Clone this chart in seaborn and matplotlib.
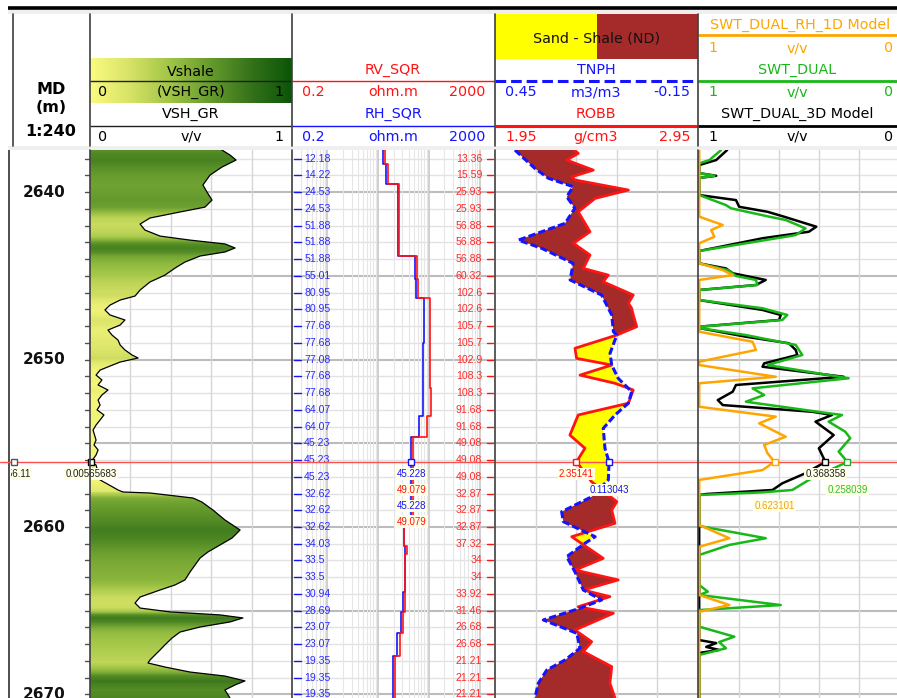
import numpy as np
import matplotlib
matplotlib.use("Agg")
import matplotlib.pyplot as plt
import matplotlib.transforms as mtransforms
from matplotlib.colors import LinearSegmentedColormap
from matplotlib.patches import Polygon, Rectangle
from matplotlib.ticker import LogLocator, NullFormatter
import seaborn as sns

sns.set_theme(style="white")
plt.rcParams["font.family"] = ["DejaVu Sans"]

# ---------------------------------------------------------------- depth window
TOP_MD, BASE_MD = 2637.49, 2670.21
CURSOR_MD = 2656.11
DEPTH_LABELS = [2640, 2650, 2660, 2670]

# ---------------------------------------------------------------- Vshale (VSH_GR, v/v)
VSH_MD = [2637.49, 2637.79, 2638.09, 2638.51, 2638.99, 2639.58, 2640.00, 2640.48, 2640.90, 2641.19,
          2641.55, 2641.91, 2642.27, 2642.63, 2642.87, 2643.10, 2643.34, 2643.58, 2643.82, 2644.18,
          2644.54, 2644.96, 2645.37, 2645.85, 2646.21, 2646.45, 2646.75, 2647.04, 2647.34, 2647.64,
          2647.94, 2648.24, 2648.54, 2648.84, 2649.13, 2649.43, 2649.73, 2649.91, 2650.15, 2650.39,
          2650.63, 2650.93, 2651.22, 2651.52, 2651.82, 2652.12, 2652.42, 2652.72, 2653.01, 2653.31,
          2653.61, 2653.91, 2654.21, 2654.81, 2655.10, 2655.40, 2655.70, 2656.11, 2656.30, 2657.19,
          2657.79, 2657.91, 2657.97, 2658.27, 2658.51, 2658.99, 2659.58, 2660.18, 2660.66, 2661.07,
          2661.49, 2661.85, 2662.27, 2662.69, 2663.16, 2663.46, 2663.76, 2664.18, 2664.54, 2664.84,
          2665.07, 2665.25, 2665.43, 2665.67, 2665.97, 2666.27, 2666.63, 2667.04, 2667.34, 2667.64,
          2667.94, 2668.12, 2668.36, 2668.66, 2668.90, 2669.19, 2669.43, 2669.73, 2670.21]
VSH = [0.653, 0.693, 0.723, 0.653, 0.594, 0.559, 0.579, 0.604, 0.569, 0.446,
       0.297, 0.248, 0.272, 0.347, 0.495, 0.668, 0.718, 0.668, 0.545, 0.470,
       0.421, 0.371, 0.297, 0.248, 0.223, 0.149, 0.099, 0.074, 0.099, 0.173,
       0.149, 0.089, 0.109, 0.139, 0.149, 0.173, 0.208, 0.238, 0.149, 0.099,
       0.050, 0.030, 0.059, 0.040, 0.089, 0.059, 0.040, 0.050, 0.035, 0.069,
       0.050, 0.030, 0.015, 0.030, 0.020, 0.040, 0.030, 0.00565683, 0.030, 0.050,
       0.139, 0.163, 0.297, 0.510, 0.554, 0.609, 0.668, 0.743, 0.703, 0.644,
       0.584, 0.545, 0.520, 0.495, 0.470, 0.421, 0.347, 0.248, 0.223, 0.248,
       0.396, 0.644, 0.757, 0.693, 0.545, 0.446, 0.406, 0.371, 0.347, 0.322,
       0.297, 0.287, 0.371, 0.495, 0.668, 0.767, 0.718, 0.668, 0.693]

# ---------------------------------------------------------------- resistivity (blocky, ohm.m)
RH_TOP = [2637.49, 2638.30, 2639.50, 2643.80, 2645.20, 2646.30, 2649.00, 2649.60, 2650.40,
          2653.40, 2654.60, 2660.00, 2661.15, 2661.60, 2663.90, 2665.10, 2666.30, 2667.70]
RH_SQR = [12.18, 14.22, 24.53, 51.88, 55.01, 80.95, 77.68, 77.08, 77.68,
          64.07, 45.228, 32.62, 34.03, 33.5, 30.94, 28.69, 23.07, 19.35]
RV_TOP = [2637.49, 2638.30, 2639.50, 2643.80, 2645.20, 2646.30, 2649.00, 2649.60, 2650.40, 2651.70,
          2653.40, 2654.60, 2660.00, 2661.15, 2661.60, 2663.90, 2665.10, 2666.30, 2667.70]
RV_SQR = [13.36, 15.59, 25.93, 56.88, 60.32, 102.6, 105.7, 102.9, 105.7, 108.3,
          91.68, 49.079, 32.87, 37.32, 34.0, 33.92, 31.46, 26.68, 21.21]

# per-metre value annotations printed along the resistivity track
RES_LABEL_MD = list(range(2638, 2671))
RH_LABELS = [12.18, 14.22, 24.53, 24.53, 51.88, 51.88, 51.88, 55.01, 80.95, 80.95, 77.68, 77.68,
             77.08, 77.68, 77.68, 64.07, 64.07, 45.23, 45.23, 45.23, 32.62, 32.62, 32.62, 34.03,
             33.5, 33.5, 30.94, 28.69, 23.07, 23.07, 19.35, 19.35, 19.35]
RV_LABELS = [13.36, 15.59, 25.93, 25.93, 56.88, 56.88, 56.88, 60.32, 102.6, 102.6, 105.7, 105.7,
             102.9, 108.3, 108.3, 91.68, 91.68, 49.08, 49.08, 49.08, 32.87, 32.87, 32.87, 37.32,
             34, 34, 33.92, 31.46, 26.68, 26.68, 21.21, 21.21, 21.21]

# ---------------------------------------------------------------- density / neutron
RHOB_MD = [2637.49, 2637.69, 2638.09, 2638.69, 2639.09, 2639.28, 2639.88, 2640.38, 2641.18, 2642.37,
           2643.06, 2643.76, 2644.56, 2644.96, 2645.36, 2646.15, 2646.64, 2646.94, 2647.34, 2648.04,
           2648.54, 2649.33, 2649.93, 2650.33, 2650.93, 2651.42, 2651.82, 2652.61, 2653.31, 2654.51,
           2655.30, 2656.11, 2657.30, 2658.49, 2658.99, 2659.78, 2660.58, 2661.87, 2662.57, 2663.16,
           2663.76, 2664.16, 2664.76, 2665.15, 2666.15, 2666.85, 2667.44, 2668.34, 2669.33, 2670.21]
RHOB = [2.34, 2.36, 2.303, 2.434, 2.328, 2.344, 2.607, 2.443, 2.360, 2.418,
        2.336, 2.418, 2.385, 2.508, 2.483, 2.631, 2.607, 2.623, 2.631, 2.648,
        2.550, 2.344, 2.352, 2.525, 2.369, 2.541, 2.631, 2.607, 2.360, 2.319,
        2.393, 2.35141, 2.426, 2.550, 2.525, 2.541, 2.328, 2.483, 2.344, 2.557,
        2.385, 2.516, 2.360, 2.533, 2.344, 2.426, 2.385, 2.525, 2.516, 2.541]
TNPH_MD = [2637.49, 2637.59, 2638.59, 2639.18, 2639.68, 2640.28, 2640.97, 2641.87, 2642.87, 2643.36,
           2644.26, 2645.25, 2646.15, 2647.34, 2648.34, 2648.54, 2649.63, 2650.33, 2651.12, 2651.92,
           2652.61, 2653.31, 2654.11, 2655.30, 2656.11, 2657.19, 2658.19, 2659.09, 2659.68, 2660.58,
           2660.97, 2661.77, 2662.67, 2663.76, 2664.36, 2664.85, 2665.55, 2666.35, 2667.24, 2667.94,
           2668.54, 2669.33, 2670.21]
TNPH = [0.391, 0.386, 0.332, 0.292, 0.219, 0.238, 0.214, 0.243, 0.381, 0.312,
        0.219, 0.228, 0.135, 0.105, 0.100, 0.090, 0.110, 0.105, 0.086, 0.046,
        0.056, 0.095, 0.130, 0.125, 0.113043, 0.115, 0.164, 0.253, 0.248, 0.154,
        0.184, 0.238, 0.214, 0.189, 0.135, 0.199, 0.307, 0.208, 0.199, 0.243,
        0.297, 0.322, 0.332]

# ---------------------------------------------------------------- water saturation models
SW3D_MD = [2637.49, 2638.09, 2638.39, 2638.87, 2639.03, 2639.16, 2640.18, 2640.48, 2640.88, 2641.18,
           2641.47, 2641.87, 2642.07, 2642.37, 2642.76, 2643.52, 2644.26, 2644.56, 2644.85, 2645.25,
           2645.55, 2645.85, 2646.45, 2647.04, 2647.34, 2647.64, 2648.04, 2648.12, 2648.64, 2649.03,
           2649.43, 2649.73, 2650.23, 2650.43, 2651.03, 2651.52, 2651.92, 2652.42, 2652.72, 2653.12,
           2653.31, 2653.71, 2654.51, 2655.30, 2655.70, 2656.11, 2656.79, 2657.39, 2657.79, 2658.03,
           2658.09, 2666.75, 2666.93, 2667.16, 2667.34, 2667.52, 2670.21]
SWT_DUAL_3D = [0.86, 0.915, 1.0, 1.0, 0.915, 1.0, 1.0, 0.816, 0.800, 0.658,
               0.576, 0.468, 0.414, 0.451, 0.683, 1.0, 1.0, 0.866, 0.832, 0.667,
               0.716, 1.0, 1.0, 0.683, 0.592, 0.600, 1.0, 1.0, 0.766, 0.551,
               0.517, 0.509, 0.675, 0.683, 0.277, 0.816, 0.832, 0.907, 0.882, 0.434,
               0.335, 0.418, 0.327, 0.401, 0.385, 0.368358, 0.468, 0.584, 0.633, 0.965,
               1.0, 1.0, 0.915, 0.965, 0.900, 1.0, 1.0]
SWD_MD = [2637.49, 2638.09, 2638.29, 2638.87, 2639.03, 2639.16, 2640.18, 2640.78, 2640.97, 2641.47,
          2641.67, 2642.17, 2642.57, 2643.52, 2644.26, 2644.66, 2645.01, 2645.25, 2645.55, 2645.85,
          2646.45, 2646.94, 2647.34, 2647.64, 2648.04, 2648.12, 2648.54, 2649.13, 2649.73, 2650.33,
          2651.12, 2651.72, 2652.12, 2652.52, 2653.21, 2653.31, 2653.71, 2654.31, 2654.70, 2655.50,
          2656.11, 2657.19, 2657.79, 2657.93, 2658.09, 2659.94, 2660.67, 2661.07, 2661.67, 2663.46,
          2663.86, 2664.06, 2664.66, 2664.96, 2665.95, 2666.55, 2666.87, 2667.24, 2667.64, 2670.21]
SWT_DUAL = [0.89, 0.949, 1.0, 1.0, 0.924, 1.0, 1.0, 0.866, 0.841, 0.650,
            0.567, 0.468, 0.517, 1.0, 1.0, 0.857, 0.816, 0.716, 0.708, 1.0,
            1.0, 0.683, 0.559, 0.584, 1.0, 1.0, 0.766, 0.517, 0.484, 0.658,
            0.252, 0.733, 0.675, 0.766, 0.352, 0.285, 0.352, 0.269, 0.244, 0.302,
            0.258039, 0.451, 0.534, 0.683, 1.0, 1.0, 0.667, 0.849, 1.0, 1.0,
            0.957, 1.0, 0.592, 1.0, 1.0, 0.824, 0.900, 0.866, 1.0, 1.0]
SW1D_MD = [2637.49, 2641.47, 2641.97, 2642.27, 2642.67, 2643.06, 2644.26, 2644.66, 2644.96, 2645.25,
           2648.34, 2648.94, 2649.43, 2650.13, 2650.33, 2651.03, 2651.42, 2652.82, 2653.41, 2653.81,
           2654.61, 2655.10, 2655.60, 2656.11, 2656.60, 2657.19, 2659.88, 2660.67, 2661.18, 2664.06,
           2664.66, 2665.06, 2670.21]
SWT_DUAL_RH_1D = [1.0, 1.0, 0.882, 0.940, 0.924, 1.0, 1.0, 0.882, 0.832, 1.0,
                  1.0, 0.733, 0.716, 1.0, 1.0, 0.617, 1.0, 1.0, 0.617, 0.700,
                  0.567, 0.675, 0.658, 0.623101, 0.683, 1.0, 1.0, 0.849, 1.0, 1.0,
                  0.849, 1.0, 1.0]

# ---------------------------------------------------------------- styling
W, H = 897, 698
DATA_TOP, DATA_BOT = 150, 698
RED, BLUE = "#ff1414", "#1414ff"
GREEN, ORANGE = "#18b818", "#ffa500"
BROWN, YELLOW = "#a52a2a", "#ffff00"
LBL_FONT = ["Liberation Sans", "DejaVu Sans"]
HDR_SIZE = 10.3

fig = plt.figure(figsize=(W / 100, H / 100), dpi=100)
fig.patch.set_facecolor("white")


def px_axes(x0, x1, y0=DATA_TOP, y1=DATA_BOT):
    return fig.add_axes([x0 / W, 1 - y1 / H, (x1 - x0) / W, (y1 - y0) / H])


def setup_track(ax, grid=True):
    ax.set_ylim(BASE_MD, TOP_MD)
    ax.set_facecolor("white")
    for sp in ax.spines.values():
        sp.set_visible(False)
    ax.tick_params(which="both", left=False, right=False, top=False, bottom=False,
                   labelleft=False, labelbottom=False, labeltop=False)
    ax.set_xlabel("")
    ax.set_ylabel("")
    if grid:
        for d in np.arange(np.ceil(TOP_MD), BASE_MD):
            major = int(d) % 5 == 0
            ax.axhline(d, color="#bcbcbc" if major else "#e2e2e2",
                       lw=1.5 if major else 1.0, zorder=0.2)
    ax.axhline(CURSOR_MD, color="#ff5050", lw=1.0, zorder=5)


def curve(ax, x, y, **kw):
    sns.lineplot(x=x, y=y, sort=False, orient="y", estimator=None, ax=ax, legend=False, **kw)
    ax.set_xlabel("")
    ax.set_ylabel("")


def step_path(tops, vals, base):
    xs, ys = [], []
    for t, b, v in zip(tops, list(tops[1:]) + [base], vals):
        xs += [v, v]
        ys += [t, b]
    return xs, ys


def step_value(tops, vals, md):
    idx = np.searchsorted(tops, md, side="right") - 1
    return vals[idx]


def marker(ax, x, color):
    ax.plot([x], [CURSOR_MD], ls="none", marker="s", ms=4, mfc="white", mec=color,
            mew=1.0, zorder=7, clip_on=False)


def readout(ax, x, row, value, color):
    ax.annotate(f"{value:.6g}", xy=(x, CURSOR_MD), xytext=(0, -(8.8 + 11.4 * row)),
                textcoords="offset points", ha="center", va="center", fontsize=7,
                family=LBL_FONT, color=color, zorder=8, annotation_clip=False,
                bbox=dict(boxstyle="square,pad=0.12", fc="#ffffe6", ec="none"))


# ---------------------------------------------------------------- depth track
ax_d = px_axes(0, 90)
setup_track(ax_d, grid=False)
ax_d.set_xlim(0, 90)
ax_d.axvline(9, color="#303030", lw=1.2, zorder=3)
for d in range(int(np.ceil(TOP_MD)), int(BASE_MD) + 1):
    ax_d.plot([85, 90], [d, d], color="#505050", lw=1, zorder=3)
for d in DEPTH_LABELS:
    ax_d.text(44, d, f"{d}", ha="center", va="center", fontsize=11, fontweight="bold", color="#111111")
clip_rect = Rectangle((11, TOP_MD), 79, BASE_MD - TOP_MD, transform=ax_d.transData,
                      facecolor="none", edgecolor="none")
ax_d.add_patch(clip_rect)
md_txt = ax_d.annotate(f"{CURSOR_MD:.6g}", xy=(14, CURSOR_MD), xytext=(0, -8.8),
                       textcoords="offset points", ha="center", va="center", fontsize=7,
                       family=LBL_FONT, color="#222222",
                       bbox=dict(boxstyle="square,pad=0.12", fc="#ffffe6", ec="none"))
md_txt.set_clip_path(clip_rect)
marker(ax_d, 14, "#555555")

# ---------------------------------------------------------------- Vshale track
ax_v = px_axes(90, 292)
vsh_cmap = LinearSegmentedColormap.from_list(
    "vsh", ["#fbfb80", "#d6e266", "#9fc446", "#659a2c", "#34721a", "#0b5507"])
fine = np.linspace(TOP_MD, BASE_MD, 1600)
vsh_fine = np.interp(fine, VSH_MD, VSH)
img = ax_v.imshow(vsh_fine[:, None], extent=[0, 1, BASE_MD, TOP_MD], origin="upper",
                  aspect="auto", cmap=vsh_cmap, vmin=0, vmax=1, interpolation="nearest", zorder=1)
fill_shape = Polygon(np.column_stack([np.r_[0, VSH, 0], np.r_[VSH_MD[0], VSH_MD, VSH_MD[-1]]]),
                     closed=True, facecolor="none", edgecolor="none", transform=ax_v.transData)
ax_v.add_patch(fill_shape)
img.set_clip_path(fill_shape)
curve(ax_v, VSH, VSH_MD, color="black", linewidth=0.9, zorder=3)
ax_v.set_xlim(0, 1)
setup_track(ax_v)
for g in (0.2, 0.4, 0.6, 0.8):
    ax_v.axvline(g, color="#d6d6d6", lw=1.0, zorder=0.3)
v_cur = float(np.interp(CURSOR_MD, VSH_MD, VSH))
marker(ax_v, v_cur, "black")
readout(ax_v, v_cur, 0, v_cur, "#222222")

# ---------------------------------------------------------------- resistivity track
ax_r = px_axes(292, 495)
ax_r.set_xscale("log")
rx, ry = step_path(RH_TOP, RH_SQR, BASE_MD)
curve(ax_r, rx, ry, color=BLUE, linewidth=1.2, zorder=3)
rx, ry = step_path(RV_TOP, RV_SQR, BASE_MD)
curve(ax_r, rx, ry, color=RED, linewidth=1.2, zorder=3.1)
ax_r.set_xlim(0.2, 2000)
setup_track(ax_r)
ax_r.xaxis.set_major_locator(LogLocator(base=10, numticks=10))
ax_r.xaxis.set_minor_locator(LogLocator(base=10, subs=np.arange(2, 10), numticks=40))
ax_r.xaxis.set_minor_formatter(NullFormatter())
ax_r.grid(True, which="major", axis="x", color="#c4c4c4", lw=1.1, zorder=0.3)
ax_r.grid(True, which="minor", axis="x", color="#e6e6e6", lw=0.8, zorder=0.3)
ax_r.set_axisbelow(True)
blend = mtransforms.blended_transform_factory(ax_r.transAxes, ax_r.transData)
for d, rh, rv in zip(RES_LABEL_MD, RH_LABELS, RV_LABELS):
    ax_r.plot([0.008, 0.043], [d, d], transform=blend, color=BLUE, lw=1.0, zorder=4)
    ax_r.text(0.06, d, f"{rh:.4g}", transform=blend, ha="left", va="center", fontsize=7.6,
              family=LBL_FONT, color="#2a2aff", zorder=4)
    ax_r.plot([0.96, 0.99], [d, d], transform=blend, color=RED, lw=1.0, zorder=4)
    ax_r.text(0.937, d, f"{rv:.4g}", transform=blend, ha="right", va="center", fontsize=7.6,
              family=LBL_FONT, color="#ff2a2a", zorder=4)
rh_cur = step_value(RH_TOP, RH_SQR, CURSOR_MD)
rv_cur = step_value(RV_TOP, RV_SQR, CURSOR_MD)
marker(ax_r, rh_cur, BLUE)
for row, (val, col) in enumerate([(rh_cur, BLUE), (rv_cur, RED), (rh_cur, BLUE), (rv_cur, RED)]):
    readout(ax_r, rh_cur, row, val, col)

# ---------------------------------------------------------------- neutron-density track
ax_n = px_axes(495, 698)
ax_n.set_xlim(1.95, 2.95)
fine_n = np.linspace(TOP_MD, BASE_MD, 3000)
rb_f = np.interp(fine_n, RHOB_MD, RHOB)
tn_f = np.interp(fine_n, TNPH_MD, TNPH)
tn_on_rb = 1.95 + (0.45 - tn_f) / 0.6      # neutron expressed on the density scale
ax_n.fill_betweenx(fine_n, tn_on_rb, rb_f, where=tn_on_rb <= rb_f, interpolate=True,
                   color=BROWN, lw=0, zorder=1)
ax_n.fill_betweenx(fine_n, tn_on_rb, rb_f, where=tn_on_rb > rb_f, interpolate=True,
                   color=YELLOW, lw=0, zorder=1)
curve(ax_n, RHOB, RHOB_MD, color=RED, linewidth=2.0, zorder=3)
ax_n.set_xlim(1.95, 2.95)
setup_track(ax_n)
for g in (2.15, 2.35, 2.55, 2.75):
    ax_n.axvline(g, color="#d6d6d6", lw=1.0, zorder=0.3)
ax_t = ax_n.twiny()
curve(ax_t, TNPH, TNPH_MD, color=BLUE, linewidth=2.2, zorder=3, dashes=(2.4, 1.0))
ax_t.set_xlim(0.45, -0.15)
ax_t.set_ylim(BASE_MD, TOP_MD)
ax_t.axis("off")
rb_cur = float(np.interp(CURSOR_MD, RHOB_MD, RHOB))
tn_cur = float(np.interp(CURSOR_MD, TNPH_MD, TNPH))
marker(ax_n, rb_cur, RED)
readout(ax_n, rb_cur, 0, rb_cur, RED)
marker(ax_t, tn_cur, BLUE)
readout(ax_t, tn_cur, 1, tn_cur, BLUE)

# ---------------------------------------------------------------- saturation track
ax_s = px_axes(698, 899)
curve(ax_s, SWT_DUAL_3D, SW3D_MD, color="black", linewidth=1.8, zorder=3)
curve(ax_s, SWT_DUAL, SWD_MD, color=GREEN, linewidth=1.8, zorder=3.1)
curve(ax_s, SWT_DUAL_RH_1D, SW1D_MD, color=ORANGE, linewidth=1.8, zorder=3.2)
ax_s.set_xlim(1.006, 0.0)
setup_track(ax_s)
for g in (0.8, 0.6, 0.4, 0.2):
    ax_s.axvline(g, color="#d6d6d6", lw=1.0, zorder=0.3)
for row, (md, vals, col, tcol) in enumerate([(SW3D_MD, SWT_DUAL_3D, "black", "#222222"),
                                             (SWD_MD, SWT_DUAL, GREEN, "#30c030"),
                                             (SW1D_MD, SWT_DUAL_RH_1D, ORANGE, "#f0a020")]):
    v = float(np.interp(CURSOR_MD, md, vals))
    marker(ax_s, v, col)
    readout(ax_s, v, row, v, tcol)

# ---------------------------------------------------------------- header panel
ax_h = fig.add_axes([0, 0, 1, 1], zorder=10)
ax_h.patch.set_visible(False)
ax_h.axis("off")


def htext(x, y, s, color="black", ha="center", size=HDR_SIZE, **kw):
    ax_h.text(x, y, s, color=color, ha=ha, va="center", fontsize=size, **kw)


def hline(x0, x1, y, color, lw=1.0, **kw):
    ax_h.plot([x0, x1], [y, y], color=color, lw=lw, solid_capstyle="butt", **kw)


ax_h.add_patch(Rectangle((8, 9), 889, 5, facecolor="#efefef", edgecolor="none"))
ax_h.add_patch(Rectangle((8, 146), 889, 4, facecolor="#efefef", edgecolor="none"))
hline(8, 897, 8, "black", lw=2.6)

# depth column
htext(51, 90, "MD", size=11.5, fontweight="bold")
htext(51, 107, "(m)", size=11.5, fontweight="bold")
htext(51, 131, "1:240", size=11.5, fontweight="bold")

# Vshale column
ax_h.imshow(np.linspace(0, 1, 256)[None, :], extent=[90, 292, 103, 58], cmap=vsh_cmap,
            aspect="auto", origin="upper", zorder=1)
htext(191, 72, "Vshale")
hline(90, 292, 81, "#202020")
htext(98, 92, "0", ha="left")
htext(191, 92, "(VSH_GR)")
htext(284, 92, "1", ha="right")
htext(191, 114, "VSH_GR")
hline(90, 292, 126, "#202020")
htext(98, 137, "0", ha="left")
htext(191, 137, "v/v")
htext(284, 137, "1", ha="right")

# resistivity column
htext(393, 70, "RV_SQR", RED)
hline(292, 495, 81, RED)
htext(302, 92, "0.2", RED, ha="left")
htext(393, 92, "ohm.m", RED)
htext(485, 92, "2000", RED, ha="right")
htext(393, 114, "RH_SQR", BLUE)
hline(292, 495, 126, BLUE)
htext(302, 137, "0.2", BLUE, ha="left")
htext(393, 137, "ohm.m", BLUE)
htext(485, 137, "2000", BLUE, ha="right")

# neutron-density column
ax_h.add_patch(Rectangle((495, 14), 102, 45, facecolor=YELLOW, edgecolor="none"))
ax_h.add_patch(Rectangle((597, 14), 101, 45, facecolor=BROWN, edgecolor="none"))
htext(597, 38, "Sand - Shale (ND)", "#111111")
htext(596, 70, "TNPH", BLUE)
ax_h.plot([495, 698], [81, 81], color=BLUE, lw=2.2, dashes=(3.5, 1.6))
htext(505, 92, "0.45", BLUE, ha="left")
htext(596, 92, "m3/m3", BLUE)
htext(690, 92, "-0.15", BLUE, ha="right")
htext(596, 114, "ROBB", RED)
hline(495, 698, 126, RED, lw=2.2)
htext(505, 137, "1.95", RED, ha="left")
htext(596, 137, "g/cm3", RED)
htext(690, 137, "2.95", RED, ha="right")

# saturation column
htext(800, 25, "SWT_DUAL_RH_1D Model", ORANGE)
hline(698, 897, 35, ORANGE, lw=2.0)
htext(708, 48, "1", ORANGE, ha="left")
htext(797, 48, "v/v", ORANGE)
htext(893, 48, "0", ORANGE, ha="right")
htext(797, 70, "SWT_DUAL", GREEN)
hline(698, 897, 81, GREEN, lw=2.0)
htext(708, 92, "1", GREEN, ha="left")
htext(797, 92, "v/v", GREEN)
htext(893, 92, "0", GREEN, ha="right")
htext(797, 114, "SWT_DUAL_3D Model", "black")
hline(698, 897, 126, "black", lw=2.0)
htext(708, 137, "1", "black", ha="left")
htext(797, 137, "v/v", "black")
htext(893, 137, "0", "black", ha="right")

# column separators
ax_h.plot([13, 13], [14, 146], color="#404040", lw=1.2)
for xb in (90, 292, 495, 698):
    ax_h.plot([xb, xb], [14, 146], color="#404040", lw=1.2)
    ax_h.plot([xb, xb], [150, 698], color="#404040", lw=1.2)

ax_h.set_xlim(0, W)
ax_h.set_ylim(H, 0)

fig.savefig("out.png", dpi=100, facecolor="white")
